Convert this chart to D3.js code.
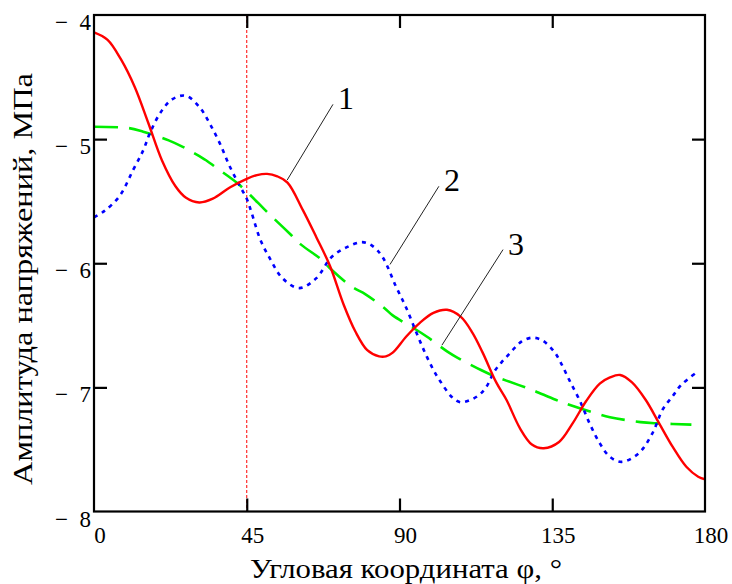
<!DOCTYPE html>
<html><head><meta charset="utf-8">
<script src="https://cdn.jsdelivr.net/npm/d3@7"></script>
<style>body{margin:0;background:#fff}svg{display:block}</style>
</head><body><svg id="c" width="732" height="584"></svg>
<script>
// ---- data ----
const xTicks = [0, 45, 90, 135, 180];
const yTicks = [-4, -5, -6, -7, -8];
const xTitle = "Угловая координата φ, °";
const yTitle = "Амплитуда напряжений, МПа";
const markerX = 45;

const curve1Phi = [0,4,8,12,16,20,24,27,31,35,40,45,48,51,54,57,61.5,65.5,69.5,73.5,77,80.5,84,86,88,92,96,100,104,108,111.5,114.5,118.5,121.5,125.5,129,132.5,137,141,145,149,152,155,158.5,162.5,166.5,170.5,174.5,178,180];
const curve1Val = [-4.14,-4.20,-4.36,-4.58,-4.87,-5.17,-5.38,-5.47,-5.51,-5.48,-5.39,-5.32,-5.29,-5.28,-5.30,-5.35,-5.57,-5.79,-6.02,-6.33,-6.55,-6.70,-6.75,-6.75,-6.72,-6.59,-6.48,-6.40,-6.375,-6.43,-6.56,-6.72,-6.96,-7.10,-7.33,-7.46,-7.49,-7.44,-7.29,-7.11,-6.97,-6.92,-6.90,-6.96,-7.10,-7.29,-7.48,-7.64,-7.72,-7.74];

const curve2Phi = [0,3,7.5,11.5,14.5,16.5,19.5,23,27,31,34,37,40,43,45,46.5,49,52,55.5,60.5,65.5,70,74.5,79,82,85,89,92,95,97.5,100,102,105.5,108,111,113.5,115.5,118,120,122,124,126,129,132,135.5,137.5,140,143,146,149,152,155.5,160.5,164.5,167.5,170.5,173,178];
const curve2Val = [-5.63,-5.58,-5.46,-5.25,-5.09,-4.95,-4.79,-4.68,-4.65,-4.74,-4.87,-5.03,-5.22,-5.38,-5.48,-5.60,-5.81,-5.97,-6.12,-6.20,-6.12,-5.95,-5.87,-5.83,-5.86,-5.95,-6.19,-6.36,-6.56,-6.72,-6.86,-6.95,-7.08,-7.12,-7.10,-7.06,-7.00,-6.87,-6.80,-6.74,-6.68,-6.63,-6.60,-6.62,-6.71,-6.80,-6.94,-7.10,-7.29,-7.45,-7.56,-7.60,-7.53,-7.37,-7.18,-7.07,-6.98,-6.87];

const curve3Phi = [0,10,14.5,18,22,26,30,33,36,42,46,50,53,58,61,67,69.5,76,80,85.5,88,94,98,104,107,114,118,125,129,136,140,148,152,161,166,176];
const curve3Val = [-4.90,-4.91,-4.94,-4.97,-5.01,-5.06,-5.12,-5.17,-5.23,-5.35,-5.45,-5.56,-5.64,-5.77,-5.85,-5.97,-6.04,-6.19,-6.25,-6.36,-6.42,-6.52,-6.59,-6.71,-6.76,-6.86,-6.91,-6.98,-7.02,-7.10,-7.14,-7.21,-7.24,-7.28,-7.29,-7.30];

// callouts: label, start point (phi, value), end point (phi, value)
const calloutText = ["1", "2", "3"];
const calloutFrom = [[56.9, -5.33], [87.2, -6.01], [102.5, -6.66]];
const calloutTo   = [[70.4, -4.72], [101.6, -5.38], [120.5, -5.89]];

// ---- drawing ----
const FONT = "'Liberation Serif', 'Times New Roman', serif";
const svg = d3.select("#c");
const L = 94, R = 705, T = 15, B = 511.5;
const x = d3.scaleLinear().domain([0, 180]).range([L, R]);
const y = d3.scaleLinear().domain([-8, -4]).range([B, T]);
svg.append("rect").attr("width",732).attr("height",584).attr("fill","#fff");

const g = svg.append("g");
const tl = 13;

const line = d3.line().x(d => x(d[0])).y(d => y(d[1])).curve(d3.curveCatmullRom.alpha(0.5));
const s1 = curve1Phi.map((p,i)=>[p,curve1Val[i]]);
const s2 = curve2Phi.map((p,i)=>[p,curve2Val[i]]);
const s3 = curve3Phi.map((p,i)=>[p,curve3Val[i]]);

g.append("line").attr("x1",x(markerX)).attr("x2",x(markerX)).attr("y1",T).attr("y2",B)
  .attr("stroke","#ff0000").attr("stroke-width",1).attr("stroke-dasharray","3,2");

g.append("path").attr("d",line(s3)).attr("fill","none").attr("stroke","#00ee00").attr("stroke-width",2.6).attr("stroke-dasharray","24,11");
g.append("path").attr("d",line(s2)).attr("fill","none").attr("stroke","#0000ff").attr("stroke-width",2.6).attr("stroke-dasharray","4,5");
g.append("path").attr("d",line(s1)).attr("fill","none").attr("stroke","#ff0000").attr("stroke-width",2.4);

calloutText.forEach((t,i)=>{
  g.append("line").attr("x1",x(calloutFrom[i][0])).attr("y1",y(calloutFrom[i][1]))
   .attr("x2",x(calloutTo[i][0])).attr("y2",y(calloutTo[i][1]))
   .attr("stroke","#222").attr("stroke-width",1);
  g.append("text").attr("x",x(calloutTo[i][0])+13).attr("y",y(calloutTo[i][1])+5)
   .attr("text-anchor","middle")
   .attr("font-family",FONT).attr("font-size",32).attr("fill","#000").text(t);
});

g.append("rect").attr("x",L).attr("y",T).attr("width",R-L).attr("height",B-T)
  .attr("fill","none").attr("stroke","#000").attr("stroke-width",2.2);

const xb = d3.axisBottom(x).tickValues(xTicks.slice(1,-1)).tickSize(-tl).tickFormat("");
const xt = d3.axisTop(x).tickValues(xTicks.slice(1,-1)).tickSize(-tl).tickFormat("");
const yl = d3.axisLeft(y).tickValues(yTicks.slice(1,-1)).tickSize(-tl).tickFormat("");
const yr = d3.axisRight(y).tickValues(yTicks.slice(1,-1)).tickSize(-tl).tickFormat("");
[[xb,`translate(0,${B})`],[xt,`translate(0,${T})`],[yl,`translate(${L},0)`],[yr,`translate(${R},0)`]].forEach(([a,tr])=>{
  const ax = g.append("g").attr("transform",tr).call(a);
  ax.select(".domain").remove();
  ax.selectAll("line").attr("stroke","#000").attr("stroke-width",2.2);
});

// x tick labels
xTicks.forEach(v=>{
  g.append("text").attr("x",x(v)+6).attr("y",B+31).attr("text-anchor","middle")
   .attr("font-family",FONT).attr("font-size",23).attr("fill","#000").text(v);
});
// y tick labels: minus sign and magnitude, Mathcad style
yTicks.forEach(v=>{
  g.append("text").attr("x",91).attr("y",y(v)+15).attr("text-anchor","end")
   .attr("font-family",FONT).attr("font-size",23).attr("fill","#000")
   .text(v < 0 ? "\u2212\u2002" + Math.abs(v) : String(v));
});

// titles (stretched to the reference extents)
function stretched(parent, text, size, targetLen, transform){
  const t = parent.append("text").attr("text-anchor","middle")
    .attr("font-family",FONT).attr("font-size",size).attr("fill","#000").text(text);
  const w = t.node().getComputedTextLength();
  t.attr("transform", transform + ` scale(${targetLen / w},1)`);
  return t;
}
stretched(svg, xTitle, 27, 312, "translate(406,578)");
stretched(svg, yTitle, 28, 412, "translate(32,279) rotate(-90)");
</script></body></html>
